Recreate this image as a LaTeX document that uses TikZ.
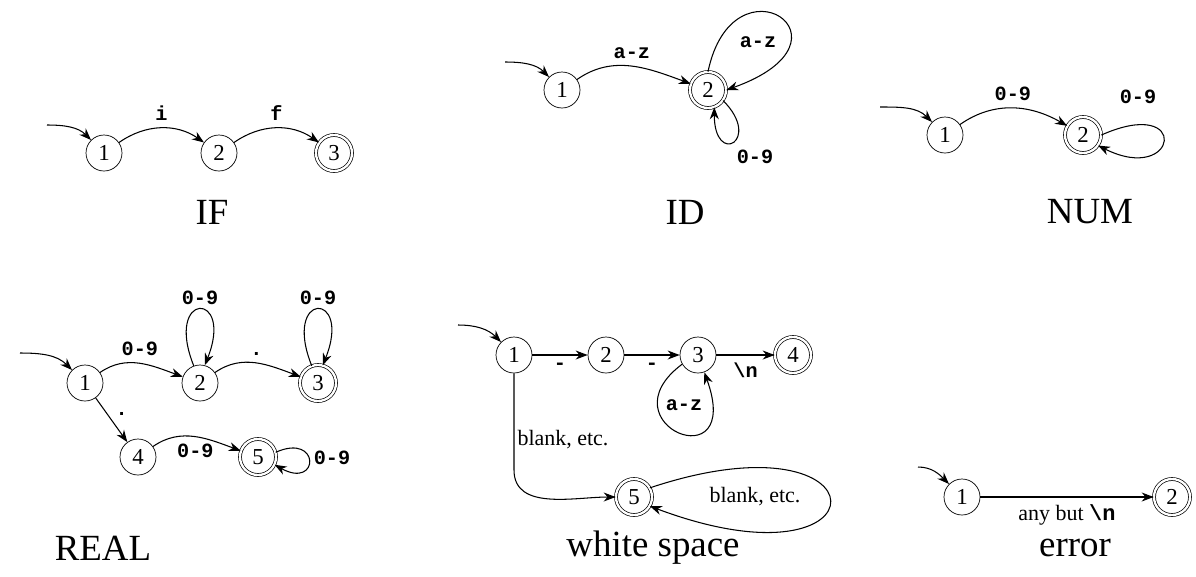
\documentclass[tikz,border=0pt]{standalone}
\usepackage{fontspec}
\setmainfont{Liberation Serif}
\setmonofont{Liberation Mono}
\usetikzlibrary{arrows.meta,positioning}
\tikzset{
  state/.style={draw, circle, minimum size=0.72cm, inner sep=0pt, font=\fontsize{13}{13}\selectfont},
  accept/.style={state, double, double distance=1.3pt},
  edge/.style={-{Stealth[length=2.4mm,width=1.8mm]}, semithick},
  lab/.style={font=\ttfamily\bfseries\fontsize{11.5}{11.5}\selectfont, inner sep=2pt},
  tlab/.style={font=\fontsize{12.5}{12.5}\selectfont, inner sep=2pt},
  title/.style={font=\fontsize{21}{21}\selectfont}
}
\begin{document}
\begin{tikzpicture}[x=0.02cm,y=-0.02cm]
  \useasboundingbox (0,0) rectangle (1196,576);

  % IF
  \node [state] (if1) at (104,153) {1};
  \node [state] (if2) at (219,153) {2};
  \node [accept] (if3) at (334,153) {3};
  \coordinate (if start) at (47,125);
  \draw [edge] (if start) to [out=0,in=135] (if1);
  \draw [edge] (if1) to [out=35,in=145] node [lab,above=2pt] {i} (if2);
  \draw [edge] (if2) to [out=35,in=145] node [lab,above=2pt] {f} (if3);
  \node [title] (if title) at (212,212) {IF};

  % ID
  \node [state] (id1) at (562,90) {1};
  \node [accept] (id2) at (708,90) {2};
  \coordinate (id start) at (505,62);
  \draw [edge] (id start) to [out=0,in=135] (id1);
  \draw [edge] (id1) to [out=35,in=160] node [lab,above=2pt] {a-z} (id2);
  \draw [edge] (id2.north) .. controls +(25,-120) and +(140,-50) .. (id2.east);
  \node [lab] (id loop top) at (758,42) {a-z};
  \draw [edge] (id2.-35) .. controls +(40,40) and +(0,60) .. (id2.-70);
  \node [lab] (id loop bottom) at (755,157) {0-9};
  \node [title] (id title) at (685,212) {ID};

  % NUM
  \node [state] (num1) at (945,135) {1};
  \node [accept] (num2) at (1083,135) {2};
  \coordinate (num start) at (880,107);
  \draw [edge] (num start) to [out=0,in=135] (num1);
  \draw [edge] (num1) to [out=35,in=150] node [lab,above=2pt] {0-9} (num2);
  \draw [edge] (num2.east) .. controls +(90,-40) and +(80,40) .. (num2.-35);
  \node [lab] (num loop) at (1138,97) {0-9};
  \node [title] (num title) at (1090,212) {NUM};

  % REAL
  \node [state] (r1) at (85,383) {1};
  \node [state] (r2) at (200,383) {2};
  \node [accept] (r3) at (318,383) {3};
  \node [state] (r4) at (138,457) {4};
  \node [accept] (r5) at (258,457) {5};
  \coordinate (r start) at (20,353);
  \draw [edge] (r start) to [out=0,in=135] (r1);
  \draw [edge] (r1) to [out=35,in=160] node [lab,above=2pt] {0-9} (r2);
  \draw [edge] (r2) to [out=35,in=160] node [lab,above=2pt] {.} (r3);
  \draw [edge] (r2.110) .. controls +(-30,-75) and +(30,-75) .. (r2.75);
  \node [lab] (r loop 2) at (200,298) {0-9};
  \draw [edge] (r3.110) .. controls +(-30,-75) and +(30,-75) .. (r3.75);
  \node [lab] (r loop 3) at (318,298) {0-9};
  \draw [edge] (r1) -- node [lab,above right] {.} (r4);
  \draw [edge] (r4) to [out=35,in=160] node [lab,below=2pt] {0-9} (r5);
  \draw [edge] (r5.15) .. controls +(45,-20) and +(45,25) .. (r5.-25);
  \node [lab] (r loop 5) at (332,458) {0-9};
  \node [title] (real title) at (103,548) {REAL};

  % white space
  \node [state] (w1) at (514,355) {1};
  \node [state] (w2) at (606,355) {2};
  \node [state] (w3) at (698,355) {3};
  \node [accept] (w4) at (793,355) {4};
  \node [accept] (w5) at (634,497) {5};
  \coordinate (w start) at (458,325);
  \draw [edge] (w start) to [out=0,in=135] (w1);
  \draw [edge] (w1) -- node [lab,below=2pt] {-} (w2);
  \draw [edge] (w2) -- node [lab,below=2pt] {-} (w3);
  \draw [edge] (w3) -- node [lab,below=2pt] {\textbackslash n} (w4);
  \draw [edge] (w3.-150) .. controls +(-80,60) and +(40,110) .. (w3.-70);
  \node [lab] (w loop 3) at (684,405) {a-z};
  \draw [edge] (w1) -- ++(0,115) to [out=-90,in=180] (w5);
  \node [tlab] (w blank) at (563,440) {blank, etc.};
  \draw [edge] (w5.30) .. controls +(240,-80) and +(240,90) .. (w5.-30);
  \node [tlab] (w loop 5) at (755,497) {blank, etc.};
  \node [title] (ws title) at (653,548) {white space};

  % error
  \node [state] (e1) at (962,497) {1};
  \node [accept] (e2) at (1172,497) {2};
  \coordinate (e start) at (918,467);
  \draw [edge] (e start) to [out=0,in=135] (e1);
  \draw [edge] (e1) -- node [tlab,below=2pt] {any but \texttt{\textbf{\textbackslash n}}} (e2);
  \node [title] (err title) at (1075,548) {error};
\end{tikzpicture}
\end{document}
